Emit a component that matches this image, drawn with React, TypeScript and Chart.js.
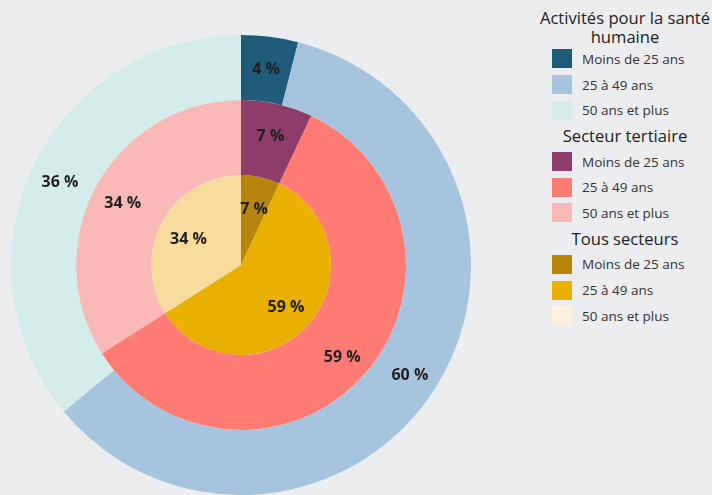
import React, { useEffect, useRef } from "react";
import { Chart, registerables } from "chart.js";

Chart.register(...registerables);

const ageGroups = ["Moins de 25 ans", "25 à 49 ans", "50 ans et plus"];
const groupTitles = ["Activités pour la santé humaine", "Secteur tertiaire", "Tous secteurs"];
const santeValues = [4, 60, 36];
const tertiaireValues = [7, 59, 34];
const tousValues = [7, 59, 34];

const santeColors = ["#1E5C7A", "#A7C4DE", "#D4ECEA"];
const tertiaireColors = ["#8E3D6B", "#FF7B73", "#F9B9B6"];
const tousColors = ["#B7840C", "#E9B000", "#F7DC9E"];
const tousLegendColors = ["#B7840C", "#E9B000", "#FDF0DC"];

const labelPlugin = {
  id: "sliceLabels",
  afterDatasetsDraw(chart: any) {
    const ctx = chart.ctx;
    ctx.save();
    ctx.font = "bold 16px 'Open Sans'";
    ctx.fillStyle = "#1f1f1f";
    ctx.textAlign = "center";
    ctx.textBaseline = "middle";
    chart.data.datasets.forEach((ds: any, di: number) => {
      const meta = chart.getDatasetMeta(di);
      meta.data.forEach((arc: any, i: number) => {
        const p = arc.getProps(["x", "y", "startAngle", "endAngle", "outerRadius"], true);
        const mid = (p.startAngle + p.endAngle) / 2;
        const r = p.outerRadius - 30;
        const x = p.x + Math.cos(mid) * r;
        const y = p.y + Math.sin(mid) * r + 3;
        ctx.fillText(ds.data[i] + " %", x, y);
      });
    });
    ctx.restore();
  },
};

export default function App() {
  const ref = useRef<HTMLCanvasElement>(null);
  useEffect(() => {
    if (!ref.current) return;
    const chart = new Chart(ref.current, {
      type: "doughnut",
      data: {
        labels: ageGroups,
        datasets: [
          { label: groupTitles[0], data: santeValues, backgroundColor: santeColors, borderWidth: 0, weight: 65 },
          { label: groupTitles[1], data: tertiaireValues, backgroundColor: tertiaireColors, borderWidth: 0, weight: 75 },
          { label: groupTitles[2], data: tousValues, backgroundColor: tousColors, borderWidth: 0, weight: 90 },
        ],
      },
      options: {
        responsive: false,
        animation: false,
        cutout: 0,
        layout: { padding: { top: 35 } },
        plugins: { legend: { display: false }, tooltip: { enabled: false } },
      } as any,
      plugins: [labelPlugin],
    });
    return () => chart.destroy();
  }, []);

  const legendGroups = [
    { title: ["Activités pour la santé", "humaine"], colors: santeColors },
    { title: ["Secteur tertiaire"], colors: tertiaireColors },
    { title: ["Tous secteurs"], colors: tousLegendColors },
  ];

  const ROW = 25.7;

  return (
    <div style={{ position: "fixed", left: 0, top: 0, width: 712, height: 495, background: "#ECEDEF", overflow: "hidden", fontFamily: "'Open Sans', sans-serif" }}>
      <canvas ref={ref} width={482} height={495} style={{ position: "absolute", left: 0, top: 0 }} />
      <div style={{ position: "absolute", left: 536, top: 9, width: 178, color: "#222" }}>
        {legendGroups.map((g, gi) => (
          <div key={gi}>
            {g.title.map((t, ti) => (
              <div
                key={ti}
                style={{
                  textAlign: "center",
                  fontSize: 16.6,
                  height: gi === 0 ? 18.5 : ROW,
                  lineHeight: (gi === 0 ? 18.5 : ROW) + "px",
                  whiteSpace: "nowrap",
                }}
              >
                {t}
              </div>
            ))}
            {ageGroups.map((a, ai) => (
              <div key={ai} style={{ display: "flex", alignItems: "center", height: ROW, marginLeft: 16 }}>
                <span style={{ display: "inline-block", width: 20, height: 19, background: g.colors[ai], marginRight: 10 }} />
                <span style={{ fontSize: 13.5, color: "#333" }}>{a}</span>
              </div>
            ))}
          </div>
        ))}
      </div>
    </div>
  );
}
